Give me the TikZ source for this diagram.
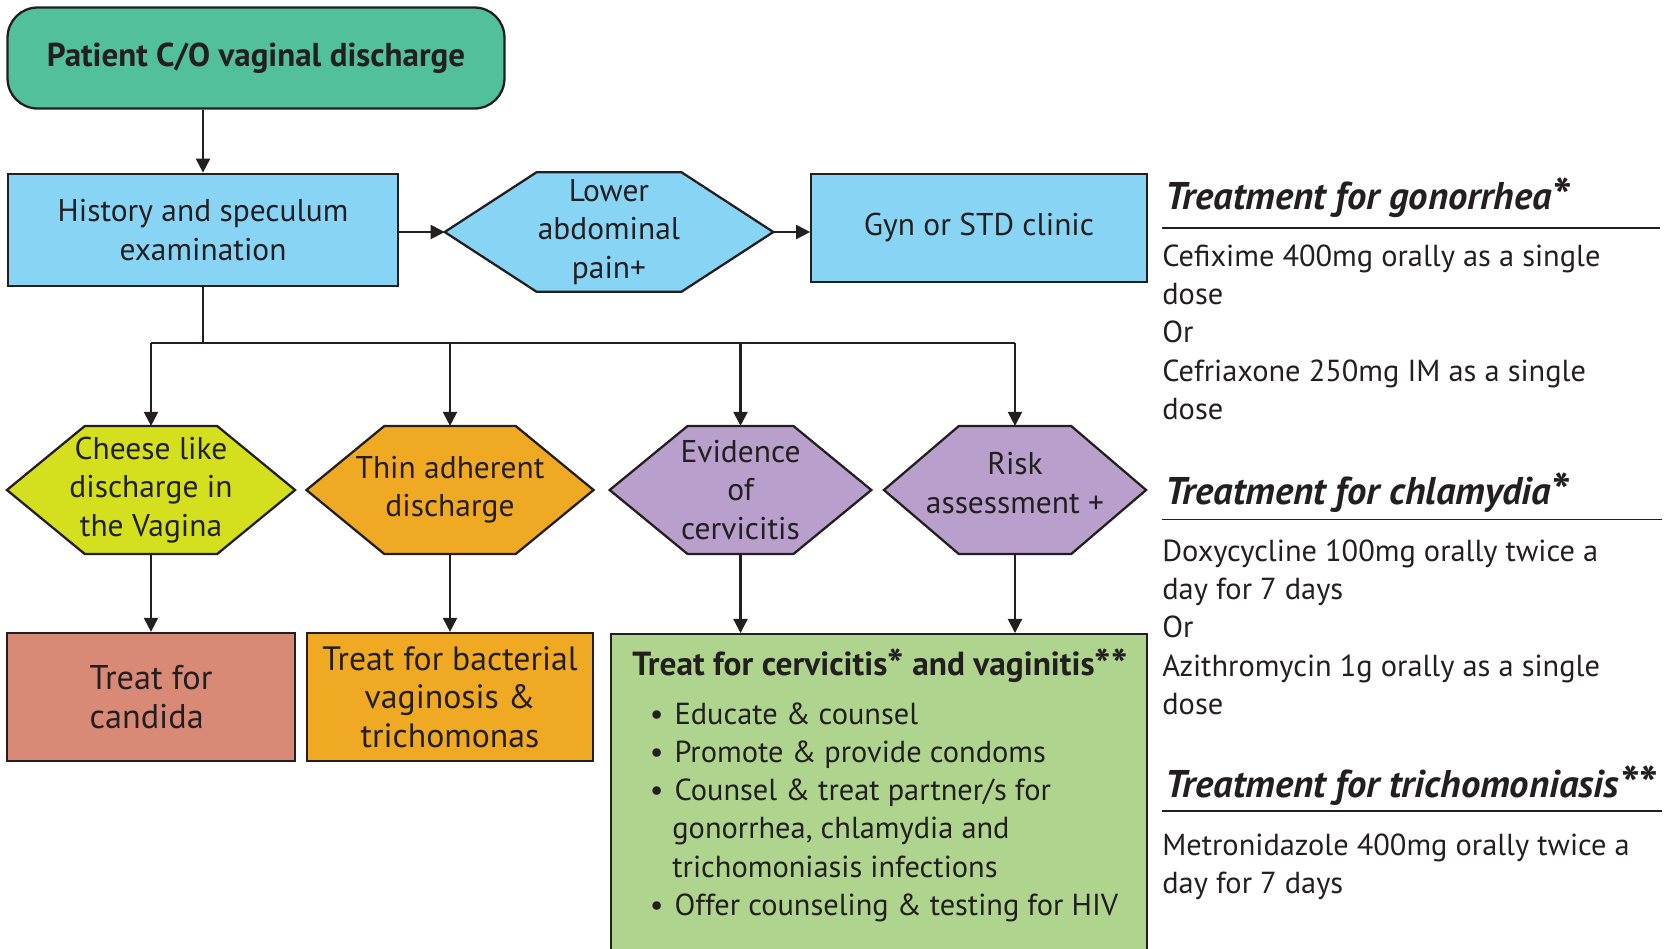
\documentclass[tikz,border=0pt]{standalone}
\usepackage{fontspec}
\setmainfont{PT Sans}
\usetikzlibrary{arrows.meta,calc,backgrounds}

\definecolor{patgreen}{RGB}{82,192,155}
\definecolor{skyblue}{RGB}{135,212,245}
\definecolor{limey}{RGB}{212,224,30}
\definecolor{amber}{RGB}{239,169,34}
\definecolor{lilac}{RGB}{185,159,203}
\definecolor{salmon}{RGB}{217,138,118}
\definecolor{leaf}{RGB}{174,212,142}
\definecolor{ink}{RGB}{35,31,32}

\newcommand{\blt}{\makebox[24pt][l]{\hspace*{10pt}\textbullet}}
\newcommand{\bigast}{\raisebox{-0.3ex}{\scalebox{1.3}{*}}}

\begin{document}
\begin{tikzpicture}[x=0.02cm, y=-0.02cm, font=\fontsize{17.9}{21.8}\selectfont,
    box/.style={draw=ink, line width=1.3pt, inner sep=0pt, align=center, text=ink},
    hexlbl/.style={inner sep=0pt, align=center, text=ink, minimum height=2.55cm},
    hexline/.style={draw=ink, line width=1.3pt, line join=miter},
    line/.style={draw=ink, line width=1.2pt},
    arr/.style={line, -{Triangle[length=8pt,width=8pt]}},
    hdr/.style={anchor=base west, inner sep=0pt, text=ink, font=\fontsize{22}{26}\selectfont\bfseries\itshape},
    body/.style={anchor=north west, inner sep=0pt, align=left, text=ink, font=\fontsize{17.3}{21.8}\selectfont},
    rule/.style={draw=ink, line width=1.1pt}]
  \useasboundingbox (0,0) rectangle (1669,948);

  % top row
  \node[box, fill=patgreen, rounded corners=0.6cm, minimum width=9.94cm, minimum height=2.02cm,
        font=\fontsize{18.8}{21.8}\selectfont\bfseries] (pat) at (256,58) {Patient C/O vaginal discharge};
  \node[box, fill=skyblue, minimum width=7.81cm, minimum height=2.25cm] (hist) at (203,230) {History and speculum\\examination};
  \node[hexlbl, minimum width=6.56cm, minimum height=2.38cm] (abd) at (609,232) {Lower\\abdominal\\pain+};
  \node[box, fill=skyblue, minimum width=6.71cm, minimum height=2.17cm] (gyn) at (979,228) {Gyn or STD clinic};

  % signs
  \node[hexlbl, minimum width=5.75cm] (cheese) at (151,490) {Cheese like\\discharge in\\the Vagina};
  \node[hexlbl, minimum width=5.73cm] (thin) at (450,490) {Thin adherent\\discharge};
  \node[hexlbl, minimum width=5.22cm] (cerv) at (740.5,490) {Evidence\\of\\cervicitis};
  \node[hexlbl, minimum width=5.23cm, text depth=8pt] (risk) at (1015,490) {Risk\\assessment +};

  \begin{scope}[on background layer]
    \foreach \n/\c/\o in {abd/skyblue/92, cheese/limey/78, thin/amber/78, cerv/lilac/78, risk/lilac/75}
      \filldraw[hexline, fill=\c] (\n.west) -- ($(\n.north west)+(\o,0)$) -- ($(\n.north east)+(-\o,0)$)
        -- (\n.east) -- ($(\n.south east)+(-\o,0)$) -- ($(\n.south west)+(\o,0)$) -- cycle;
  \end{scope}

  % treatment boxes
  \node[box, fill=salmon, minimum width=5.75cm, minimum height=2.56cm, align=left,
        font=\fontsize{19.5}{21.8}\selectfont] (candida) at (151,697) {Treat for\\candida};
  \node[box, fill=amber, minimum width=5.73cm, minimum height=2.56cm,
        font=\fontsize{19.2}{21.8}\selectfont] (bact) at (450,697) {Treat for bacterial\\vaginosis \&\\trichomonas};
  \node[box, fill=leaf, anchor=north west, minimum width=10.72cm, minimum height=8cm] (treat) at (610,633) {};
  \node[body] (treattxt) at (632,648) {\strut{\fontsize{19}{21.8}\selectfont\bfseries Treat for cervicitis\bigast{} and vaginitis\bigast\bigast}\\[6pt]
    \blt Educate \& counsel\\
    \blt Promote \& provide condoms\\
    \blt Counsel \& treat partner/s for\\
    \hspace*{22.8pt}gonorrhea, chlamydia and\\
    \hspace*{22.8pt}trichomoniasis infections\\
    \blt Offer counseling \& testing for HIV};

  % connectors
  \draw[arr] (hist.north |- pat.south) -- (hist.north);
  \draw[arr] (hist.east |- abd.west) -- (abd.west);
  \draw[arr] (abd.east) -- (abd.east -| gyn.west);
  \coordinate (fork) at (198,343);
  \draw[line] (hist.south) -- (hist.south |- fork);
  \draw[line] (cheese.north |- fork) -- (risk.north |- fork);
  \foreach \n in {cheese,thin,cerv,risk}
    \draw[arr] (\n.north |- fork) -- (\n.north);
  \draw[arr] (cheese.south) -- (candida.north);
  \draw[arr] (thin.south) -- (bact.north);
  \foreach \n in {cerv,risk}
    \draw[arr] (\n.south) -- (\n.south |- treat.north);

  % drug notes
  \node[hdr] (hgon) at (1165,209) {Treatment for gonorrhea\bigast};
  \draw[rule] (1162,228) -- (1660,228);
  \node[body] (bgon) at (1162,239) {\strut Cefixime 400mg orally as a single\\dose\\Or\\Cefriaxone 250mg IM as a single\\dose};
  \node[hdr] (hchl) at (1165,504) {Treatment for chlamydia\bigast};
  \draw[rule] (1162,519.5) -- (1662,519.5);
  \node[body] (bchl) at (1162,534) {\strut Doxycycline 100mg orally twice a\\day for 7 days\\Or\\Azithromycin 1g orally as a single\\dose};
  \node[hdr] (htri) at (1165,797) {Treatment for trichomoniasis\bigast\bigast};
  \draw[rule] (1162,811) -- (1662,811);
  \node[body] (btri) at (1162,828) {\strut Metronidazole 400mg orally twice a\\day for 7 days};
\end{tikzpicture}
\end{document}
